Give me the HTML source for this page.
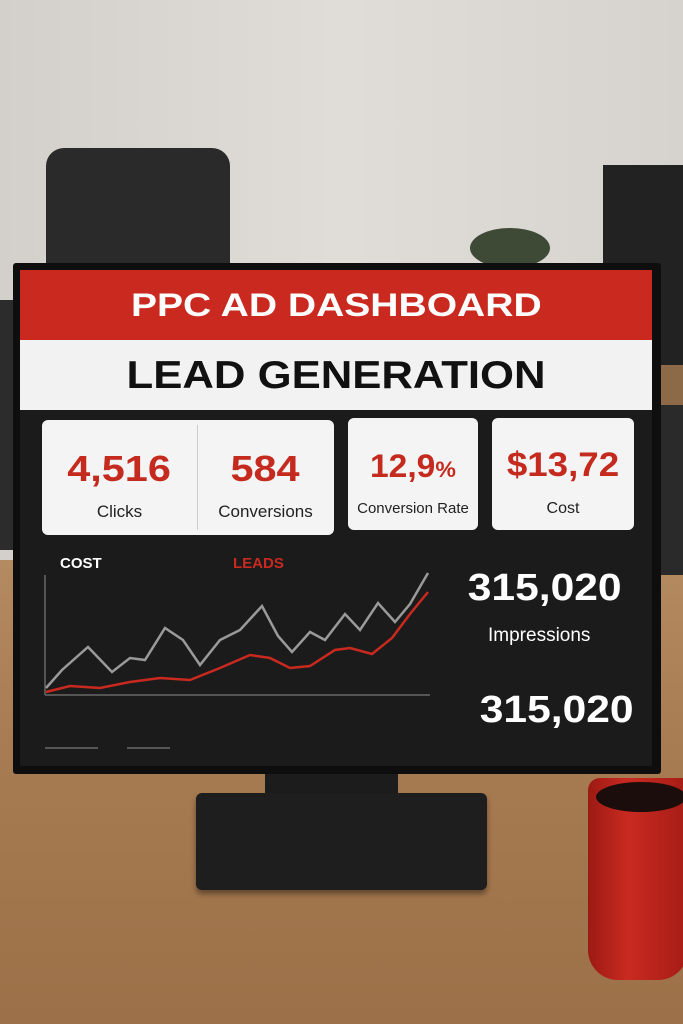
<!DOCTYPE html>
<html><head><meta charset="utf-8"><style>
*{margin:0;padding:0;box-sizing:border-box}
body{width:683px;height:1024px;overflow:hidden;position:relative;font-family:"Liberation Sans",sans-serif;background:#d8d5d0}
.abs{position:absolute}
.card{position:absolute;background:#f4f4f4;border-radius:6px}
.num{position:absolute;color:#c52a1f;font-weight:bold;text-align:center;width:100%}
.lbl{position:absolute;color:#222;text-align:center;width:100%}
.sx{display:inline-block}
</style></head><body>
<div class="abs" style="left:0;top:0;width:683px;height:570px;background:linear-gradient(90deg,#d3d0cb,#e0ddd8 50%,#d6d3ce)"></div>
<div class="abs" style="left:0;top:560px;width:683px;height:464px;background:linear-gradient(180deg,#b48a60,#a87c52 40%,#9c7048)"></div>
<div class="abs" style="left:46px;top:148px;width:184px;height:130px;background:#2a2a2a;border-radius:18px 18px 6px 6px"></div>
<div class="abs" style="left:0;top:300px;width:20px;height:250px;background:#2c2c2c"></div>
<div class="abs" style="left:470px;top:228px;width:80px;height:40px;background:#3e4a35;border-radius:50%"></div>
<div class="abs" style="left:603px;top:165px;width:80px;height:200px;background:#222"></div>
<div class="abs" style="left:655px;top:365px;width:28px;height:40px;background:#8c6a48"></div>
<div class="abs" style="left:658px;top:405px;width:25px;height:170px;background:#2a2a2a"></div>
<div class="abs" style="left:265px;top:765px;width:133px;height:42px;background:#1c1c1c"></div>
<div class="abs" style="left:196px;top:793px;width:291px;height:97px;background:#1e1e1e;border-radius:6px;box-shadow:0 4px 6px rgba(0,0,0,.4)"></div>
<div class="abs" style="left:13px;top:263px;width:648px;height:511px;background:#0e0e0e;border-radius:3px"></div>
<div class="abs" style="left:20px;top:270px;width:632px;height:496px;background:#1b1b1b"></div>
<div class="abs" style="left:20px;top:270px;width:632px;height:70px;background:#c9291f;color:#fff;font-weight:bold;font-size:32px;text-align:center;line-height:70px"><span class="sx" style="transform:scaleX(1.22)">PPC AD DASHBOARD</span></div>
<div class="abs" style="left:20px;top:340px;width:632px;height:70px;background:#f2f2f2;color:#111;font-weight:bold;font-size:39px;text-align:center;line-height:72px"><span class="sx" style="transform:scaleX(1.12)">LEAD GENERATION</span></div>
<div class="card" style="left:42px;top:420px;width:292px;height:115px"></div>
<div class="abs" style="left:197px;top:425px;width:1px;height:105px;background:#ccc"></div>
<div class="card" style="left:42px;top:420px;width:155px;height:115px;background:transparent">
<div class="num" style="top:28px;font-size:36px"><span class="sx" style="transform:scaleX(1.15)">4,516</span></div><div class="lbl" style="top:82px;font-size:17px">Clicks</div></div>
<div class="card" style="left:197px;top:420px;width:137px;height:115px;background:transparent">
<div class="num" style="top:28px;font-size:36px"><span class="sx" style="transform:scaleX(1.15)">584</span></div><div class="lbl" style="top:82px;font-size:17px">Conversions</div></div>
<div class="card" style="left:348px;top:418px;width:130px;height:112px">
<div class="num" style="top:30px;font-size:32px"><span class="sx" style="transform:scaleX(1.05)">12,9<span style="font-size:22px">%</span></span></div><div class="lbl" style="top:82px;font-size:15px">Conversion Rate</div></div>
<div class="card" style="left:492px;top:418px;width:142px;height:112px">
<div class="num" style="top:28px;font-size:34px"><span class="sx" style="transform:scaleX(1.08)">$13,72</span></div><div class="lbl" style="top:82px;font-size:16px">Cost</div></div>
<div class="abs" style="left:60px;top:555px;color:#fff;font-weight:bold;font-size:15px">COST</div>
<div class="abs" style="left:233px;top:555px;color:#c9291f;font-weight:bold;font-size:15px">LEADS</div>
<svg class="abs" style="left:0;top:0" width="683" height="1024">
<line x1="45" y1="575" x2="45" y2="695" stroke="#555" stroke-width="2"/>
<line x1="45" y1="695" x2="430" y2="695" stroke="#555" stroke-width="2"/>
<line x1="45" y1="748" x2="98" y2="748" stroke="#555" stroke-width="2"/>
<line x1="127" y1="748" x2="170" y2="748" stroke="#555" stroke-width="2"/>
<polyline fill="none" stroke="#9a9a9a" stroke-width="2.5" points="46,688 62,670 88,647 112,672 130,658 145,660 165,628 183,640 200,665 220,640 240,630 262,606 278,636 292,652 310,632 325,640 345,614 360,630 378,603 395,622 410,604 428,573"/>
<polyline fill="none" stroke="#c9291f" stroke-width="2.5" points="46,692 70,686 100,688 130,682 160,678 190,680 220,668 250,655 270,658 290,668 310,666 335,650 350,648 372,654 392,638 410,614 428,592"/>
</svg>
<div class="abs" style="left:466px;top:567px;width:157px;text-align:center;color:#fff;font-weight:bold;font-size:38px"><span class="sx" style="transform:scaleX(1.12)">315,020</span></div>
<div class="abs" style="left:488px;top:625px;color:#fff;font-size:19px">Impressions</div>
<div class="abs" style="left:478px;top:689px;width:157px;text-align:center;color:#fff;font-weight:bold;font-size:38px"><span class="sx" style="transform:scaleX(1.12)">315,020</span></div>
<div class="abs" style="left:588px;top:778px;width:100px;height:202px;background:linear-gradient(90deg,#9c1a14,#c92a20 40%,#a51c16);border-radius:12px 0 30px 30px"></div>
<div class="abs" style="left:596px;top:782px;width:90px;height:30px;background:#1a0d0b;border-radius:50%"></div>
</body></html>
